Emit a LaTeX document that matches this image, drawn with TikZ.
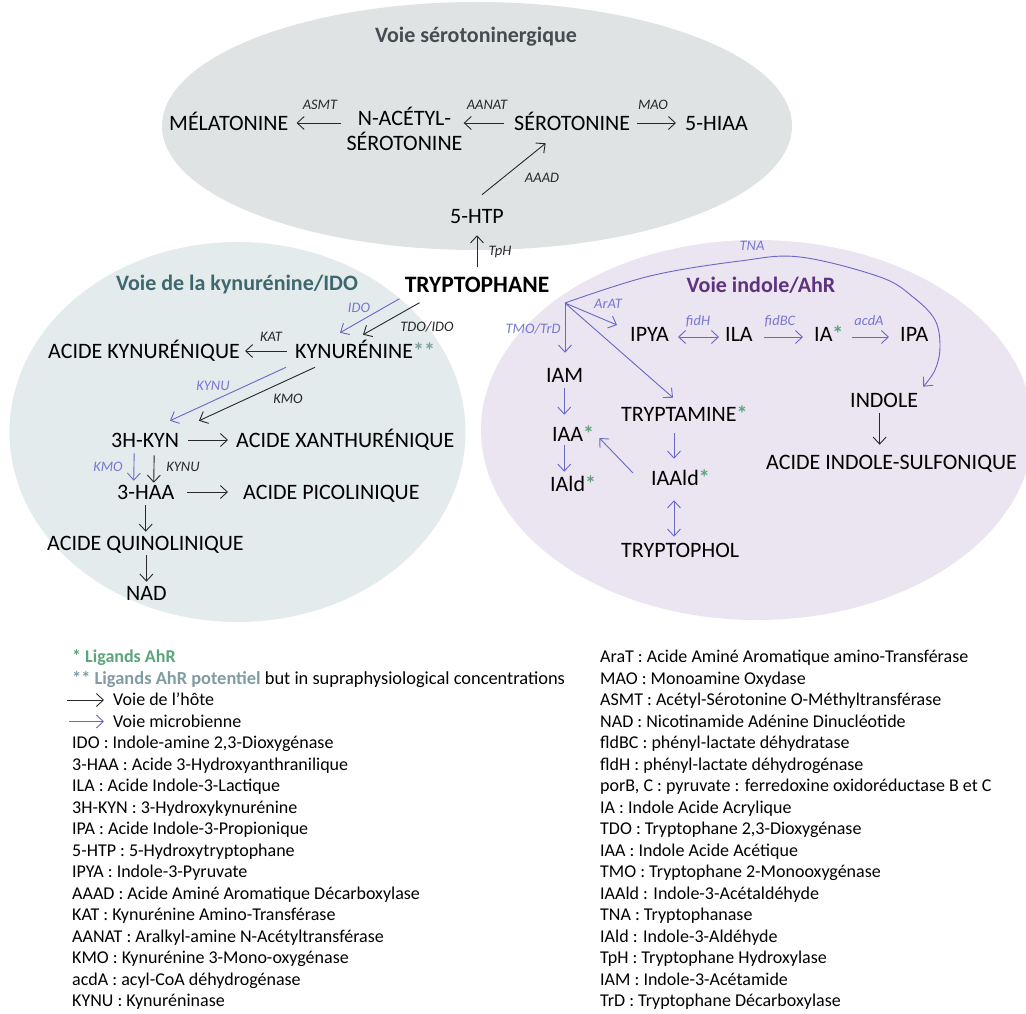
\documentclass[tikz,border=0pt]{standalone}
\usepackage{fontspec}
\setmainfont{Carlito}
\usetikzlibrary{arrows.meta,calc}
\definecolor{topfill}{RGB}{224,227,228}
\definecolor{leftfill}{RGB}{227,235,236}
\definecolor{rightfill}{RGB}{235,228,241}
\definecolor{ttop}{RGB}{70,76,82}
\definecolor{tleft}{RGB}{62,104,110}
\definecolor{tright}{RGB}{94,50,126}
\definecolor{mblue}{RGB}{104,104,200}
\definecolor{lblue}{RGB}{120,120,208}
\definecolor{agreen}{RGB}{90,165,122}
\definecolor{agrey}{RGB}{128,156,160}
\definecolor{hostc}{RGB}{40,40,40}
\newcommand{\gast}{{\bfseries\color{agreen}*}}
\begin{document}
\begin{tikzpicture}[x=1pt,y=-1pt,
  met/.style={font=\fontsize{22}{25}\selectfont, inner sep=0pt, text height=14.2pt, text depth=0pt, anchor=west},
  enz/.style={font=\fontsize{14.5}{16}\selectfont\itshape, inner sep=0pt, text=hostc},
  enzb/.style={enz, text=lblue},
  host/.style={draw=hostc, line width=0.9pt, -{Straight Barb[length=7pt,width=13pt]}},
  mic/.style={host, draw=mblue},
  both/.style={{Straight Barb[length=7pt,width=13pt]}-{Straight Barb[length=7pt,width=13pt]}},
  ttl/.style={font=\fontsize{22}{25}\selectfont\bfseries, inner sep=0pt},
  leg/.style={font=\fontsize{18}{21}\selectfont, inner sep=0pt, anchor=west, text height=11.6pt, text depth=0pt}]
\useasboundingbox (0,0) rectangle (1026,1014);
% background ellipses
\fill[topfill] (477,126) ellipse [x radius=315, y radius=124];
\fill[leftfill] (237.5,432) ellipse [x radius=228, y radius=190];
\fill[rightfill] (757,430) ellipse [x radius=276, y radius=190];
% titles
\node[ttl, text=ttop] (t1) at (476,37) {Voie sérotoninergique};
\node[ttl, text=tleft] (t2) at (237,285) {Voie de la kynurénine/IDO};
\node[ttl, text=tright] (t3) at (761,285) {Voie indole/AhR};
% serotonin pathway
\node[font=\fontsize{23.5}{26}\selectfont\bfseries, inner sep=0pt, text height=15pt, text depth=0pt] (trp) at (477,285) {TRYPTOPHANE};
\node[met] (mel) at (169,123) {MÉLATONINE};
\node[font=\fontsize{22}{25}\selectfont, inner sep=0pt, align=center] (nac) at (404.5,129) {N-ACÉTYL-\\SÉROTONINE};
\node[met] (sero) at (514,123) {SÉROTONINE};
\node[met] (hiaa) at (685,123) {5-HIAA};
\node[met, anchor=center] (htp) at (477,216) {5-HTP};
\draw[host, shorten <=5pt, shorten >=8pt] (nac.west |- mel.east) -- (mel.east);
\draw[host, shorten <=10pt, shorten >=1pt] (sero.west) -- (nac.east |- sero.west);
\draw[host, shorten <=7pt, shorten >=9pt] (sero.east) -- (hiaa.west);
\draw[host] ($(htp.north)+(5,-14)$) -- ($(sero.south)+(-26.5,13)$);
\draw[host, shorten <=10pt, shorten >=12pt] (trp.north) -- (htp.south);
\node[enz] (eASMT) at (320,105) {ASMT};
\node[enz] (eAANAT) at (487,105) {AANAT};
\node[enz] (eMAO) at (653,105) {MAO};
\node[enz] (eAAAD) at (542,178) {AAAD};
\node[enz] (eTpH) at (500,252) {TpH};
% kynurenine pathway
\node[met] (akyn) at (48,351) {ACIDE KYNURÉNIQUE};
\node[met] (kyn) at (295,351) {KYNURÉNINE{\bfseries\color{agrey}**}};
\node[met] (hkyn) at (111,440) {3H-KYN};
\node[met] (axan) at (236,440) {ACIDE XANTHURÉNIQUE};
\node[met] (haa) at (117,492) {3-HAA};
\node[met] (apic) at (243,492) {ACIDE PICOLINIQUE};
\node[met] (aqui) at (47,543) {ACIDE QUINOLINIQUE};
\node[met] (nad) at (126,593) {NAD};
\draw[mic] ($(trp.south west)+(-5,6)$) -- ($(kyn.north west)+(45,-11)$);
\draw[host] ($(trp.south west)+(15,10)$) -- ($(kyn.north west)+(68,-9)$);
\draw[host, shorten <=8pt, shorten >=5pt] (kyn.west) -- (akyn.east);
\draw[mic] ($(kyn.south west)+(-9,9)$) -- ($(hkyn.north west)+(59,-12)$);
\draw[host] ($(kyn.south west)+(20,9)$) -- ($(hkyn.north west)+(88,-12)$);
\draw[host, shorten <=9pt, shorten >=8pt] (hkyn.east) -- (axan.west);
\draw[mic] ($(hkyn.south)+(-11,6)$) -- ($(haa.north)+(-12,-4)$);
\draw[host] ($(hkyn.south)+(9,8)$) -- ($(haa.north)+(8,-2)$);
\draw[host, shorten <=13pt, shorten >=15pt] (haa.east) -- (apic.west);
\draw[host, shorten <=6pt, shorten >=4pt] (haa.south) -- (haa.south |- aqui.north);
\draw[host, shorten <=5pt, shorten >=4pt] (nad.north |- aqui.south) -- (nad.north);
\node[enzb] (eIDO) at (359,308) {IDO};
\node[enz] (eTDO) at (427,327) {TDO/IDO};
\node[enz] (eKAT) at (271,337) {KAT};
\node[enzb] (eKYNUb) at (213,386) {KYNU};
\node[enz] (eKMO) at (288,399) {KMO};
\node[enzb] (eKMOb) at (108,467) {KMO};
\node[enz] (eKYNU) at (183,467) {KYNU};
% indole pathway
\coordinate (bp) at (565,303);
\node[met] (ipya) at (630,334) {IPYA};
\node[met] (ila) at (725,334) {ILA};
\node[met] (ia) at (814,334) {IA\gast};
\node[met] (ipa) at (900,334) {IPA};
\node[met] (iam) at (546,375) {IAM};
\node[met] (iaa) at (552,434) {IAA\gast};
\node[met] (iald) at (550,484) {IAld\gast};
\node[met] (tam) at (621,414) {TRYPTAMINE\gast};
\node[met] (iaald) at (651,478) {IAAld\gast};
\node[met] (tol) at (621,550) {TRYPTOPHOL};
\node[met] (indole) at (850,400) {INDOLE};
\node[met] (ais) at (766,462) {ACIDE INDOLE-SULFONIQUE};
\coordinate (tnaend) at ($(indole.north east)+(5,-6)$);
\draw[mic] plot[smooth, tension=0.6] coordinates {(bp) (650,276) (740,261) (800,257) (880,277) (913,297) (935,320) (940,347) (935,370) (tnaend)};
\draw[mic, shorten >=15pt] (bp) -- (bp |- iam.north);
\draw[mic] (bp) -- ($(ipya.west)+(-13,-9)$);
\draw[mic] (bp) -- ($(tam.north west)+(52,-9)$);
\draw[mic, both, shorten <=9pt, shorten >=6pt] ($(ipya.east)+(0,3)$) -- ($(ila.west)+(0,3)$);
\draw[mic, shorten <=11pt, shorten >=11pt] ($(ila.east)+(0,3)$) -- ($(ia.west)+(0,3)$);
\draw[mic, shorten <=8pt, shorten >=11pt] ($(ia.east)+(0,3)$) -- ($(ipa.west)+(0,3)$);
\draw[mic, shorten <=6pt, shorten >=12pt] ($(iam.south)+(-0.5,0)$) -- ($(iam.south |- iaa.north)+(-0.5,0)$);
\draw[mic, shorten <=4pt, shorten >=5pt] ($(iam.south |- iaa.south)+(-0.5,0)$) -- ($(iam.south |- iald.north)+(-0.5,0)$);
\draw[mic] ($(tam.south west)+(53,12)$) -- ($(iaald.north west)+(23,-12)$);
\draw[mic] ($(iaald.west)+(-18,-5)$) -- ($(iaa.east)+(5,4)$);
\draw[mic, both] ($(iaald.south west)+(23,15)$) -- ($(tol.north west)+(53,-6)$);
\draw[host] ($(indole.south)+(-4.5,6)$) -- ($(indole.south |- ais.north)+(-4.5,-10)$);
\node[enzb] (eTNA) at (752,246) {TNA};
\node[enzb] (eArAT) at (608,304) {ArAT};
\node[enzb] (eTMO) at (533,329) {TMO/TrD};
\node[enzb] (efidH) at (698,321) {fidH};
\node[enzb] (efidBC) at (780,321) {fidBC};
\node[enzb] (eacdA) at (869,321) {acdA};
% legend, left column
\node[leg, font=\fontsize{18}{21}\selectfont\bfseries, text=agreen] (l0) at (72,657) {* Ligands AhR};
\node[leg, font=\fontsize{18.4}{21}\selectfont] (l1) at (72,678.5) {{\bfseries\color{agrey}** Ligands AhR potentiel} but in supraphysiological concentrations};
\node[leg] (l2) at (113,700) {Voie de l’hôte};
\node[leg] (l3) at (113,721.5) {Voie microbienne};
\draw[host] ($(l2.west)+(-46,0)$) -- ($(l2.west)+(-9,0)$);
\draw[mic] ($(l3.west)+(-44,0)$) -- ($(l3.west)+(-9,0)$);
\foreach \t [count=\i from 4] in {{IDO : Indole-amine 2,3-Dioxygénase},
  {3-HAA : Acide 3-Hydroxyanthranilique},
  {ILA : Acide Indole-3-Lactique},
  {3H-KYN : 3-Hydroxykynurénine},
  {IPA : Acide Indole-3-Propionique},
  {5-HTP : 5-Hydroxytryptophane},
  {IPYA : Indole-3-Pyruvate},
  {AAAD : Acide Aminé Aromatique Décarboxylase},
  {KAT : Kynurénine Amino-Transférase},
  {AANAT : Aralkyl-amine N-Acétyltransférase},
  {KMO : Kynurénine 3-Mono-oxygénase},
  {acdA : acyl-CoA déhydrogénase},
  {KYNU : Kynuréninase}}
  \node[leg] (l\i) at (72,657+21.5*\i) {\t};
% legend, right column
\foreach \t [count=\i from 0] in {{AraT : Acide Aminé Aromatique amino-Transférase},
  {MAO : Monoamine Oxydase},
  {ASMT : Acétyl-Sérotonine O-Méthyltransférase},
  {NAD : Nicotinamide Adénine Dinucléotide},
  {fldBC : phényl-lactate déhydratase},
  {fldH : phényl-lactate déhydrogénase},
  {porB, C : pyruvate : ferredoxine oxidoréductase B et C},
  {IA : Indole Acide Acrylique},
  {TDO : Tryptophane 2,3-Dioxygénase},
  {IAA : Indole Acide Acétique},
  {TMO : Tryptophane 2-Monooxygénase},
  {IAAld : Indole-3-Acétaldéhyde},
  {TNA : Tryptophanase},
  {IAld : Indole-3-Aldéhyde},
  {TpH : Tryptophane Hydroxylase},
  {IAM : Indole-3-Acétamide},
  {TrD : Tryptophane Décarboxylase}}
  \node[leg] (r\i) at (600,657+21.5*\i) {\t};
\end{tikzpicture}
\end{document}
